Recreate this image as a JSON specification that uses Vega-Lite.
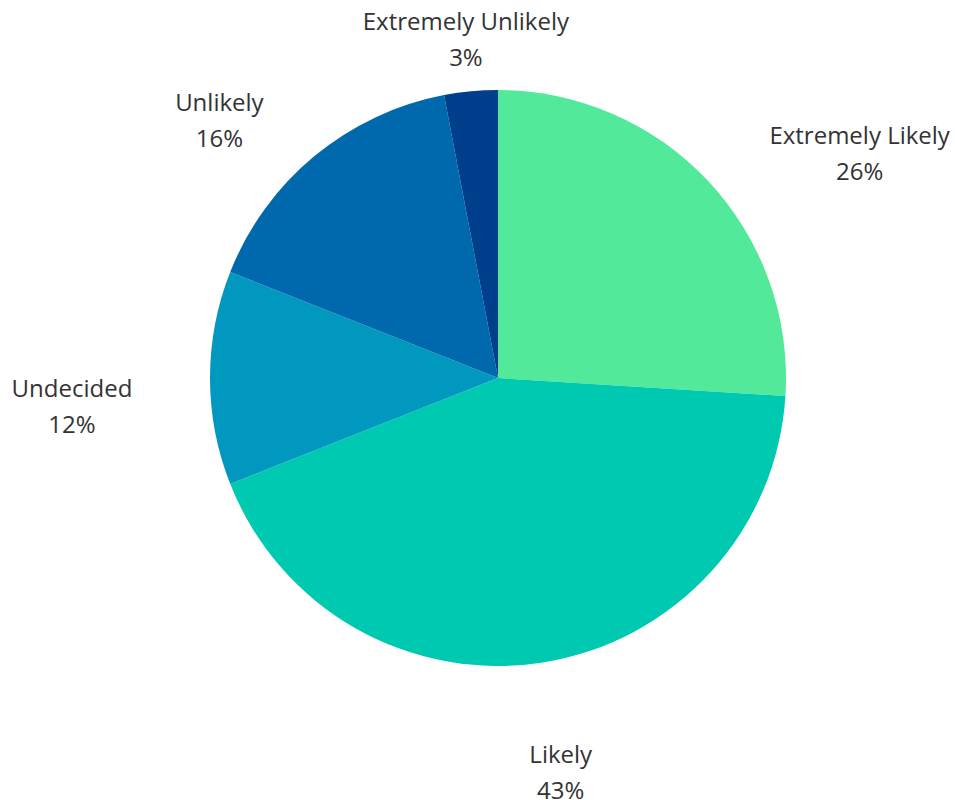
{
  "$schema": "https://vega.github.io/schema/vega-lite/v6.json",
  "autosize": "none",
  "width": 914,
  "height": 756,
  "padding": {"left": 41, "top": 0, "right": 0, "bottom": 44},
  "background": "white",
  "view": {"stroke": null},
  "data": {
    "values": [
      {"category": "Extremely Likely", "value": 26, "order": 1},
      {"category": "Likely", "value": 43, "order": 2},
      {"category": "Undecided", "value": 12, "order": 3},
      {"category": "Unlikely", "value": 16, "order": 4},
      {"category": "Extremely Unlikely", "value": 3, "order": 5}
    ]
  },
  "transform": [
    {"stack": "value", "groupby": [], "sort": [{"field": "order", "order": "ascending"}], "as": ["v0", "v1"]},
    {"calculate": "(datum.v0 + datum.v1) / 2", "as": "mid"},
    {"calculate": "datum.category + '\\n' + datum.value + '%'", "as": "label"}
  ],
  "layer": [
    {
      "mark": {"type": "arc", "outerRadius": 288, "stroke": null},
      "encoding": {
        "theta": {"field": "v0", "type": "quantitative", "stack": null, "scale": {"domain": [0, 100]}},
        "theta2": {"field": "v1"},
        "color": {
          "field": "category",
          "type": "nominal",
          "scale": {
            "domain": ["Extremely Likely", "Likely", "Undecided", "Unlikely", "Extremely Unlikely"],
            "range": ["#52E99B", "#00C9B2", "#0098BF", "#0068AD", "#003F8B"]
          },
          "legend": null
        }
      }
    },
    {
      "transform": [{"filter": "datum.category == 'Extremely Likely'"}],
      "mark": {"type": "text", "radius": 326, "align": "center", "baseline": "middle", "dx": 124, "dy": -18, "font": "Open Sans", "fontSize": 24, "lineHeight": 36, "lineBreak": "\n", "color": "#333333"},
      "encoding": {
        "theta": {"field": "mid", "type": "quantitative", "stack": null, "scale": {"domain": [0, 100]}},
        "text": {"field": "label", "type": "nominal"}
      }
    },
    {
      "transform": [{"filter": "datum.category == 'Likely'"}],
      "mark": {"type": "text", "radius": 401, "align": "center", "baseline": "middle", "dy": -18, "font": "Open Sans", "fontSize": 24, "lineHeight": 36, "lineBreak": "\n", "color": "#333333"},
      "encoding": {
        "theta": {"field": "mid", "type": "quantitative", "stack": null, "scale": {"domain": [0, 100]}},
        "text": {"field": "label", "type": "nominal"}
      }
    },
    {
      "transform": [{"filter": "datum.category == 'Undecided'"}],
      "mark": {"type": "text", "radius": 426, "align": "center", "baseline": "middle", "dy": 12, "font": "Open Sans", "fontSize": 24, "lineHeight": 36, "lineBreak": "\n", "color": "#333333"},
      "encoding": {
        "theta": {"field": "mid", "type": "quantitative", "stack": null, "scale": {"domain": [0, 100]}},
        "text": {"field": "label", "type": "nominal"}
      }
    },
    {
      "transform": [{"filter": "datum.category == 'Unlikely'"}],
      "mark": {"type": "text", "radius": 332, "align": "center", "baseline": "middle", "dx": -67, "dy": -18, "font": "Open Sans", "fontSize": 24, "lineHeight": 36, "lineBreak": "\n", "color": "#333333"},
      "encoding": {
        "theta": {"field": "mid", "type": "quantitative", "stack": null, "scale": {"domain": [0, 100]}},
        "text": {"field": "label", "type": "nominal"}
      }
    },
    {
      "transform": [{"filter": "datum.category == 'Extremely Unlikely'"}],
      "mark": {"type": "text", "radius": 341, "align": "center", "baseline": "middle", "dy": -16, "font": "Open Sans", "fontSize": 24, "lineHeight": 36, "lineBreak": "\n", "color": "#333333"},
      "encoding": {
        "theta": {"field": "mid", "type": "quantitative", "stack": null, "scale": {"domain": [0, 100]}},
        "text": {"field": "label", "type": "nominal"}
      }
    }
  ]
}
